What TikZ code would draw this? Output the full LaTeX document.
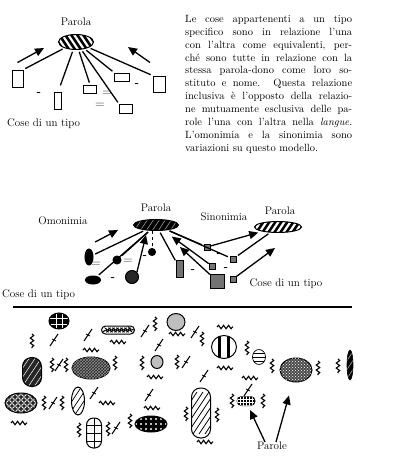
\documentclass[tikz,border=0pt]{standalone}
\usepackage{tikz}
\usetikzlibrary{shapes.geometric, arrows.meta, positioning, calc, patterns, decorations.pathmorphing}

\newcommand{\riga}[1]{\makebox[167pt][s]{#1}}
\newcommand{\ondav}[2]{\draw[onda] (#1,#2-7) -- (#1,#2+7);}
\newcommand{\ondao}[2]{\draw[onda] (#1-8,#2) -- (#1+8,#2);}
\newcommand{\tratto}[2]{\draw[line width=1pt] (#1-4,#2+6) -- (#1+4,#2-6);
  \draw[line width=0.8pt] (#1-2,#2-1) -- (#1+2,#2+1);}

\tikzset{
  lbl/.style={font=\fontsize{11}{13}\selectfont, inner sep=0pt},
  segno/.style={font=\fontsize{11}{11}\selectfont\bfseries, inner sep=0pt},
  cosa/.style={draw, line width=1pt, fill=white, inner sep=0pt},
  grigio/.style={draw, line width=0.6pt, fill=black!55, inner sep=0pt},
  tondo/.style={ellipse, draw, line width=1pt, inner sep=0pt},
  capsula/.style={rectangle, draw, line width=1pt, inner sep=0pt, rounded corners=#1},
  filo/.style={line width=1.3pt, shorten <=2pt, shorten >=2pt},
  freccia/.style={line width=1.3pt, -{Triangle[length=9pt,width=8pt]}},
  onda/.style={line width=1.1pt, decorate, decoration={snake, amplitude=1.7pt, segment length=5pt}},
  righe/.style 2 args={path picture={\foreach \p in {-36,-30,...,36}
      \draw[#1, line width=#2] ($(path picture bounding box.center)+(\p-14,21)$) -- ++(28,-42);}},
  rovesce/.style 2 args={path picture={\foreach \p in {-36,-30,...,36}
      \draw[#1, line width=#2] ($(path picture bounding box.center)+(\p-14,-21)$) -- ++(28,42);}},
  griglia/.style 2 args={path picture={\foreach \p in {#2} {
      \draw[#1, line width=0.8pt] ($(path picture bounding box.center)+(\p,-20)$) -- ++(0,40);
      \draw[#1, line width=0.8pt] ($(path picture bounding box.center)+(-20,\p)$) -- ++(40,0);}}},
  anelli/.style={path picture={\foreach \i in {-15,-9,...,15} \foreach \j in {-9,-3,...,9}
      \draw[white, line width=0.8pt] ($(path picture bounding box.center)+(\i,\j)$) circle (2.3pt);}},
  puntini/.style={path picture={\foreach \i in {-15,-10,...,15} \foreach \j in {-10,-5,...,10}
      \fill[white] ($(path picture bounding box.center)+(\i,\j)$) circle (1.2pt);}},
}

\begin{document}
\begin{tikzpicture}[x=1pt, y=-1pt]
  \useasboundingbox (0,0) rectangle (400,456);

  % --- in alto: una parola, tante cose
  \node[lbl] (parA) at (76,22) {Parola};
  \node[tondo, fill=white, minimum width=35pt, minimum height=15pt, rovesce={black}{2.6pt}] (ellA) at (76,42) {};
  \node[cosa, minimum width=11pt, minimum height=17pt] (c1) at (17.5,78.5) {};
  \node[cosa, minimum width=7pt, minimum height=17pt] (c2) at (58,101) {};
  \node[cosa, minimum width=13pt, minimum height=8pt] (c3) at (90,89) {};
  \node[cosa, minimum width=15pt, minimum height=8pt] (c4) at (122,77) {};
  \node[cosa, minimum width=13pt, minimum height=9pt] (c5) at (126,109) {};
  \node[cosa, minimum width=12pt, minimum height=16pt] (c6) at (159,84) {};
  \draw[filo] (ellA) -- (c1.north east);
  \draw[filo, shorten >=7pt] (ellA) -- (c2.north);
  \draw[filo] (ellA) -- (c3.north);
  \draw[filo] (ellA) -- (c5.north west);
  \draw[filo] (ellA) -- (c4.north west);
  \draw[filo] (ellA) -- (c6.north west);
  \draw[freccia] ([yshift=7pt]c1.north) -- ([xshift=-14pt,yshift=-6pt]ellA.west);
  \draw[freccia] ([xshift=-9pt,yshift=13pt]c6.north) -- ([xshift=34pt,yshift=-5pt]ellA.east);
  \node[segno] (m1) at (39,94) {-};
  \node[segno] (m2) at (137,85) {-};
  \node[segno, text=black!60] (u1) at (107,93) {=};
  \node[segno, text=black!60] (u2) at (100,105) {=};
  \node[lbl, anchor=west] (coseA) at (7,124) {Cose di un tipo};

  \node[anchor=north west, inner sep=0pt, align=left, font=\fontsize{10.5}{12.9}\selectfont] (testo) at (185,15) {%
    \riga{Le cose appartenenti a un tipo}\\
    \riga{specifico sono in relazione l'una}\\
    \riga{con l'altra come equivalenti, per-}\\
    \riga{ché sono tutte in relazione con la}\\
    \riga{stessa parola-dono come loro so-}\\
    \riga{stituto e nome. Questa relazione}\\
    \riga{inclusiva è l'opposto della relazio-}\\
    \riga{ne mutuamente esclusiva delle pa-}\\
    \riga{role l'una con l'altra nella \emph{langue}.}\\
    \riga{L'omonimia e la sinonimia sono}\\
    variazioni su questo modello.};

  % --- al centro: omonimia e sinonimia
  \node[lbl] (parB) at (156,208) {Parola};
  \node[lbl] (omo) at (63,221) {Omonimia};
  \node[lbl] (sino) at (224,217) {Sinonimia};
  \node[lbl] (parC) at (280,211) {Parola};
  \node[tondo, fill=black, minimum width=45pt, minimum height=11pt, righe={black!40}{0.6pt}] (ellB) at (156,225) {};
  \node[tondo, fill=white, minimum width=47pt, minimum height=11pt, righe={black}{2.5pt}] (ellC) at (278,227) {};

  \node[tondo, fill=black, minimum width=8pt, minimum height=16pt] (o1) at (89,257) {};
  \node[tondo, fill=black, minimum size=8pt] (o2) at (117,260) {};
  \node[tondo, fill=black, minimum size=7pt] (o3) at (152,252) {};
  \node[tondo, fill=black, minimum width=15pt, minimum height=8pt] (o4) at (93,280) {};
  \node[tondo, fill=black!85, minimum size=13pt] (o5) at (132,277) {};
  \draw[filo] (ellB) -- (o1);
  \draw[filo] (ellB) -- (o4);
  \draw[filo] (ellB) -- (o2);
  \draw[line width=1pt, dashed] (o3 |- ellB.south) -- (o3);
  \draw[freccia] ([xshift=3pt,yshift=9pt]o1.north east) -- ([xshift=-15pt,yshift=-5pt]ellB.west);
  \draw[freccia] (o5.north east) -- ([xshift=-10pt,yshift=-4pt]ellB.south);
  \node[segno, text=black!60] (u3) at (96,264) {=};
  \node[segno, text=black!60] (u4) at (128,261) {=};
  \node[segno] (m3) at (145,257) {-};
  \node[segno] (m4) at (113,279) {-};

  \node[grigio, minimum size=6pt] (s1) at (207,247) {};
  \node[grigio, minimum size=6pt] (s2) at (233,259) {};
  \node[grigio, minimum size=6pt] (s3) at (212,266) {};
  \node[grigio, minimum width=7pt, minimum height=17pt] (s4) at (180,269) {};
  \node[grigio, minimum size=14pt] (s5) at (217,281) {};
  \node[grigio, minimum size=6pt] (s6) at (233,279) {};
  \draw[filo] (ellB) -- (s1);
  \draw[filo] (ellB) -- (s2);
  \draw[filo] (ellB) -- (s4);
  \draw[freccia, shorten >=10pt] (s3) -- (ellB);
  \draw[freccia, shorten >=24pt] (s5) -- (ellB);
  \draw[freccia, shorten >=4pt] (s1) -- (ellC);
  \draw[filo] (s2) -- (ellC);
  \draw[freccia] (s6) -- ([xshift=-3pt,yshift=-15pt]ellC.south);
  \node[segno] (m5) at (219,255) {-};
  \node[segno] (m6) at (193,271) {-};
  \node[segno] (m7) at (226,269) {-};
  \node[lbl] (coseC) at (286,284) {Cose di un tipo};
  \node[lbl, anchor=west] (coseB) at (2,295) {Cose di un tipo};

  \draw[line width=1.2pt] (13,307) -- (352,307);

  % --- in basso: le parole nella langue
  \node[tondo, fill=black, minimum width=20pt, minimum height=16pt, griglia={white}{-3,3}] (w1) at (59,321) {};
  \node[capsula=4pt, fill=white, minimum width=33pt, minimum height=8pt,
        path picture={\draw[line width=0.6pt, decorate, decoration={zigzag, amplitude=1.4pt, segment length=4pt}]
        ($(path picture bounding box.west)+(3,0)$) -- ($(path picture bounding box.east)+(-3,0)$);}] (w2) at (118,330) {};
  \node[tondo, fill=black!25, minimum width=18pt, minimum height=17pt] (w3) at (176,322) {};
  \node[capsula=9pt, fill=black!85, minimum width=19pt, minimum height=29pt, righe={white}{0.5pt}] (w4) at (32,372) {};
  \node[tondo, fill=black!85, minimum width=38pt, minimum height=22pt, postaction={pattern=crosshatch, pattern color=black!45}] (w5) at (91,368) {};
  \node[tondo, fill=black!25, minimum width=12pt, minimum height=13pt] (w6) at (157,362) {};
  \node[tondo, fill=black!85, minimum width=32pt, minimum height=20pt, anelli] (w7) at (21,403) {};
  \node[tondo, fill=white, minimum width=13pt, minimum height=28pt, righe={black}{0.7pt}] (w8) at (78,401) {};
  \node[capsula=7pt, fill=white, minimum width=15pt, minimum height=30pt, griglia={black}{-8,0,8}] (w9) at (94,433) {};
  \node[tondo, fill=black, minimum width=32pt, minimum height=16pt, puntini] (w10) at (151,424) {};
  \node[capsula=9pt, fill=white, minimum width=19pt, minimum height=50pt, righe={black}{0.8pt}] (w11) at (201,413) {};
  \node[tondo, fill=white, minimum width=25pt, minimum height=23pt,
        path picture={\fill[black] ($(path picture bounding box.center)+(-6,-15)$) rectangle ++(3,30);
                      \fill[black] ($(path picture bounding box.center)+(3,-15)$) rectangle ++(3,30);}] (w12) at (224,347) {};
  \node[tondo, line width=0.7pt, fill=white, minimum width=13pt, minimum height=15pt,
        path picture={\foreach \p in {-4,0,4} \draw[line width=0.6pt] ($(path picture bounding box.center)+(-8,\p)$) -- ++(16,0);}] (w13) at (259,357) {};
  \node[tondo, fill=black!70, minimum width=32pt, minimum height=24pt, postaction={pattern=crosshatch dots, pattern color=white}] (w14) at (296,370) {};
  \node[tondo, fill=black, line width=0.6pt, minimum width=6pt, minimum height=30pt, righe={white}{0.4pt}] (w15) at (350,365) {};
  \node[capsula=4.5pt, fill=black, minimum width=18pt, minimum height=9pt, postaction={pattern=grid, pattern color=white}] (w16) at (246,401) {};

  % onde e tratti
  \ondav{32}{341} \tratto{54}{340} \tratto{88}{335} \ondao{91}{350}
  \ondao{118}{342} \tratto{145}{331} \ondav{155}{324} \ondao{177}{334}
  \tratto{195}{332} \ondav{202}{339} \ondao{225}{327} \ondao{225}{368}
  \ondav{247}{348} \ondav{272}{366} \ondav{318}{368} \ondav{338}{366}
  \ondav{52}{365} \tratto{59}{365} \ondav{66}{365} \ondav{115}{363}
  \ondav{142}{363} \tratto{159}{345} \ondao{155}{377} \ondav{177}{362}
  \tratto{186}{362} \ondao{19}{423} \ondav{44}{403} \tratto{53}{403}
  \ondav{62}{403} \tratto{94}{393} \ondao{107}{403} \tratto{149}{395}
  \ondao{152}{408} \ondav{79}{430} \ondav{108}{429} \tratto{116}{428}
  \ondav{130}{421} \ondav{186}{414} \tratto{204}{376} \ondav{217}{415}
  \ondav{232}{401} \tratto{248}{390} \ondao{250}{378} \ondav{263}{401}
  \ondao{205}{442}

  \node[lbl] (parole) at (272,446) {Parole};
  \draw[freccia] ([xshift=-7pt]parole.north) -- ([xshift=4pt,yshift=-4pt]w16.south);
  \draw[freccia] ([xshift=4pt]parole.north) -- ([xshift=-7pt,yshift=-13pt]w14.south);
\end{tikzpicture}
\end{document}
